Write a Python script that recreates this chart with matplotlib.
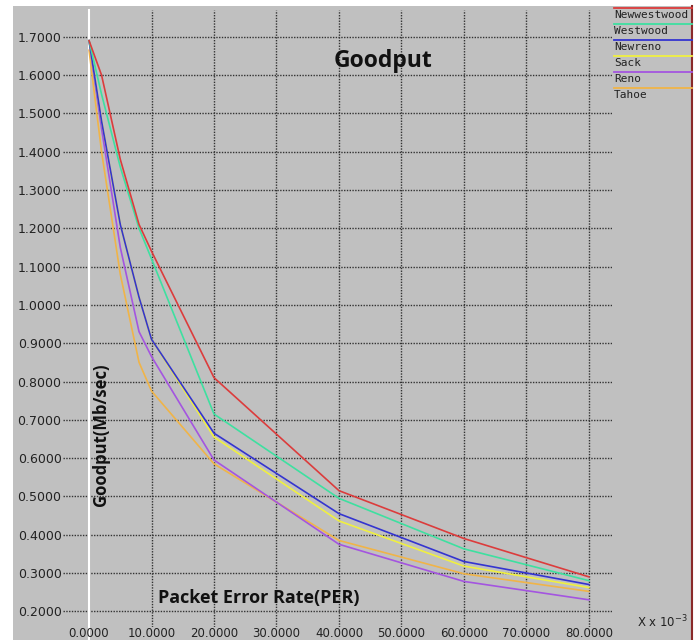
import matplotlib
matplotlib.use('Agg')
import matplotlib.pyplot as plt
from matplotlib.lines import Line2D
from matplotlib.patches import Rectangle

# PER in units of 1e-3, goodput in Mb/sec
per = [0, 2, 5, 8, 10, 20, 40, 60, 80]
newwestwood = [1.69, 1.60, 1.38, 1.21, 1.14, 0.81, 0.515, 0.39, 0.29]
westwood = [1.69, 1.55, 1.36, 1.20, 1.12, 0.715, 0.495, 0.363, 0.28]
newreno = [1.69, 1.48, 1.21, 1.02, 0.91, 0.665, 0.455, 0.33, 0.27]
sack = [1.69, 1.48, 1.21, 1.02, 0.91, 0.655, 0.436, 0.318, 0.262]
reno = [1.69, 1.46, 1.15, 0.93, 0.865, 0.595, 0.375, 0.278, 0.23]
tahoe = [1.665, 1.40, 1.08, 0.85, 0.775, 0.585, 0.385, 0.298, 0.252]

names = ['Newwestwood', 'Westwood', 'Newreno', 'Sack', 'Reno', 'Tahoe']
series = [newwestwood, westwood, newreno, sack, reno, tahoe]
colors = ['#dc3c3c', '#3ee0a0', '#3434d0', '#f0f040', '#a455e0', '#f0b448']
# drawing order: yellow sits under blue, like the reference
draw_order = [5, 4, 3, 2, 1, 0]

xticks = [0, 10, 20, 30, 40, 50, 60, 70, 80]
yticks = [0.2, 0.3, 0.4, 0.5, 0.6, 0.7, 0.8, 0.9, 1.0, 1.1, 1.2, 1.3, 1.4, 1.5, 1.6, 1.7]

W, H = 699, 640
fig = plt.figure(figsize=(W / 100, H / 100), dpi=100, facecolor='white')

def fx(px):
    return px / W

def fy(py):
    return 1 - py / H

# grey panel behind everything
fig.patches.append(Rectangle((fx(13), 0), fx(692) - fx(13), fy(6), transform=fig.transFigure,
                             facecolor='#c0c0c0', edgecolor='none', zorder=-10))
fig.add_artist(Line2D([fx(692), fx(692)], [0, fy(6)], color='#8a2a2a', lw=1.5))

ax = fig.add_axes([fx(63), fy(627), fx(612) - fx(63), fy(10) - fy(627)])
ax.set_zorder(1)
ax.set_facecolor('none')
ax.set_xlim(-4.17, 83.7)
ax.set_ylim(0.159, 1.77)
for s in ax.spines.values():
    s.set_visible(False)

ax.set_xticks(xticks)
ax.set_xticklabels(['%.4f' % v for v in xticks])
ax.set_yticks(yticks)
ax.set_yticklabels(['%.4f' % v for v in yticks])
ax.tick_params(length=0, labelsize=9, colors='#222222', pad=1)
ax.tick_params(axis='x', labelsize=8.5, pad=0)

for v in xticks[1:]:
    ax.axvline(v, color='#333333', lw=1, ls=(0, (1, 1)), zorder=1)
for v in yticks:
    ax.axhline(v, color='#333333', lw=1, ls=(0, (1, 1)), zorder=1)
ax.plot([0, 0], [0.1, 1.77], color='white', lw=1.5, zorder=1, clip_on=False)

for i in draw_order:
    ax.plot(per, series[i], color=colors[i], lw=1.2, zorder=3)

ax.text(47.1, 1.637, 'Goodput', ha='center', va='center', fontsize=16.5,
        fontweight='bold', family='Open Sans', color='#111111')
ax.text(27.1, 0.235, 'Packet Error Rate(PER)', ha='center', va='center', fontsize=13,
        fontweight='bold', family='Open Sans', color='#111111')
ax.text(1.9, 0.66, 'Goodput(Mb/sec)', ha='center', va='center', rotation=90, fontsize=12,
        fontweight='bold', family='Open Sans', color='#111111')

fig.text(fx(688), fy(622), r'X x $10^{-3}$', ha='right', va='center', fontsize=8.5,
         family='DejaVu Sans', color='#222222')

# legend at the top right
for i, (name, c) in enumerate(zip(names, colors)):
    ly = 8 + 16 * i
    fig.add_artist(Line2D([fx(614), fx(692)], [fy(ly), fy(ly)], color=c, lw=1.3))
    fig.text(fx(614), fy(ly + 7.5), name, ha='left', va='center', fontsize=8,
             family='DejaVu Sans Mono', color='#222222')

fig.savefig('out.png', dpi=100, facecolor='white')
